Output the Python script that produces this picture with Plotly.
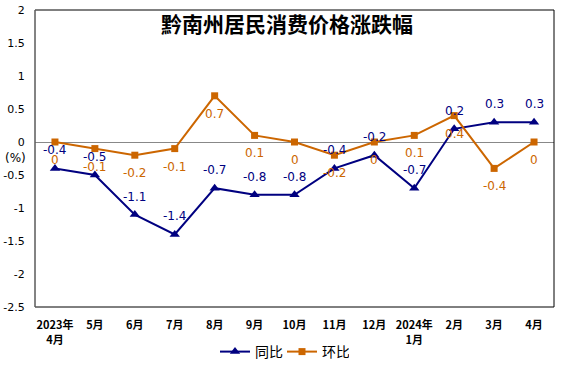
import plotly.graph_objects as go

categories = ["2023年<br>4月", "5月", "6月", "7月", "8月", "9月", "10月", "11月", "12月",
              "2024年<br>1月", "2月", "3月", "4月"]
tongbi = [-0.4, -0.5, -1.1, -1.4, -0.7, -0.8, -0.8, -0.4, -0.2, -0.7, 0.2, 0.3, 0.3]
huanbi = [0, -0.1, -0.2, -0.1, 0.7, 0.1, 0, -0.2, 0, 0.1, 0.4, -0.4, 0]
yticks = [2, 1.5, 1, 0.5, 0, -0.5, -1, -1.5, -2, -2.5]

NAVY = "#000080"
ORANGE = "#CC6600"
FONT = "DejaVu Sans"
CJK = "Noto Sans CJK SC"

W, H = 574, 374
L, R, T, B = 35, 20, 10, 67
PW, PH = W - L - R, H - T - B

x_idx = list(range(len(categories)))

fig = go.Figure()
fig.add_trace(go.Scatter(
    x=x_idx, y=tongbi, name="同比", mode="lines+markers",
    line=dict(color=NAVY, width=2),
    marker=dict(symbol="triangle-up", size=9, color=NAVY),
))
fig.add_trace(go.Scatter(
    x=x_idx, y=huanbi, name="环比", mode="lines+markers",
    line=dict(color=ORANGE, width=2),
    marker=dict(symbol="square", size=7, color=ORANGE),
))

annotations = []
for i, v in enumerate(tongbi):
    annotations.append(dict(x=i, y=v, xref="x", yref="y", text=f"{v:g}", showarrow=False,
                            yshift=18, font=dict(family=FONT, size=12, color=NAVY)))
for i, v in enumerate(huanbi):
    annotations.append(dict(x=i, y=v, xref="x", yref="y", text=f"{v:g}", showarrow=False,
                            yshift=-18, font=dict(family=FONT, size=12, color=ORANGE)))
annotations.append(dict(x=(15 - L) / PW, y=(H - B - 158) / PH, xref="paper", yref="paper",
                        xanchor="center", yanchor="middle",
                        text="(%)", showarrow=False,
                        font=dict(family=FONT, size=12, color="black")))
annotations.append(dict(x=(287 - L) / PW, y=(H - B - 23) / PH, xref="paper", yref="paper",
                        xanchor="center", yanchor="middle",
                        text="<b>黔南州居民消费价格涨跌幅</b>", showarrow=False,
                        font=dict(family=CJK, size=21, color="black")))

fig.update_layout(
    width=W, height=H,
    margin=dict(l=L, r=R, t=T, b=B, autoexpand=False),
    paper_bgcolor="white", plot_bgcolor="white",
    showlegend=True,
    legend=dict(orientation="h", x=(282 - L) / PW, xanchor="center",
                y=(H - B - 352) / PH, yanchor="middle",
                font=dict(family=CJK, size=14, color="black"),
                itemwidth=30, tracegroupgap=0,
                entrywidth=22, entrywidthmode="pixels"),
    annotations=annotations,
    shapes=[
        dict(type="rect", xref="paper", yref="paper", x0=0, x1=1, y0=0, y1=1,
             line=dict(color="black", width=1), layer="above"),
        dict(type="line", xref="paper", yref="paper", x0=0, x1=0, y0=0, y1=1,
             line=dict(color="#888888", width=1), layer="above"),
    ],
)
fig.update_xaxes(
    tickmode="array", tickvals=x_idx, ticktext=[f"<b>{c}</b>" for c in categories],
    range=[-0.5, len(categories) - 0.5], showgrid=False, zeroline=False,
    showline=False, ticks="outside", ticklen=8, tickcolor="rgba(0,0,0,0)", tickangle=0,
    automargin=False,
    tickfont=dict(family=CJK, size=11, color="black"),
)
fig.update_yaxes(
    range=[-2.5, 2], tickmode="array", tickvals=yticks, ticktext=[f"{t:g}" for t in yticks],
    showgrid=False, zeroline=True, zerolinecolor="#888888", zerolinewidth=1,
    showline=False, ticks="outside", ticklen=7, tickcolor="rgba(0,0,0,0)",
    automargin=False,
    tickfont=dict(family=FONT, size=11, color="black"),
)

fig.write_html("out.html", config={"displayModeBar": False},
               post_script="document.body.style.margin='0';document.body.style.overflow='hidden';")
